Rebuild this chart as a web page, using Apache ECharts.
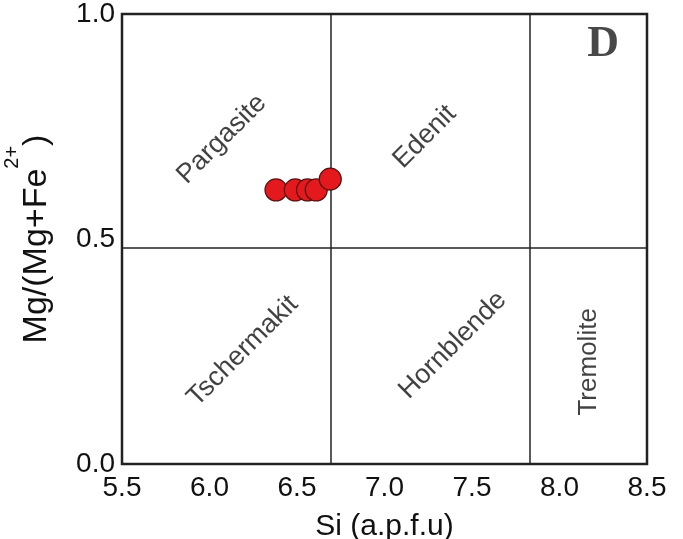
<!DOCTYPE html>
<html>
<head>
<meta charset="utf-8">
<script src="https://cdn.jsdelivr.net/npm/echarts@6/dist/echarts.min.js"></script>
<style>
html,body{margin:0;padding:0;background:#fff;}
#chart{width:683px;height:539px;}
</style>
</head>
<body>
<div id="chart"></div>
<script>
// ---- data ----
const xMin = 5.5, xMax = 8.5, xStep = 0.5;
const yMin = 0, yMax = 1, yStep = 0.5;
const siValues = [6.38, 6.49, 6.56, 6.61, 6.69];
const mgValues = [0.609, 0.609, 0.609, 0.609, 0.633];
const siBoundaries = [6.69, 7.83];
const mgBoundaries = [0.484];
const fieldNames = ['Pargasite', 'Edenit', 'Tschermakit', 'Hornblende', 'Tremolite'];
const fieldSi = [6.07, 7.23, 6.19, 7.39, 8.17];
const fieldMg = [0.722, 0.727, 0.251, 0.264, 0.227];
const panelLetter = 'D';
const panelSi = 8.25, panelMg = 0.931;

// ---- build ----
const font = "'Liberation Sans', Arial, sans-serif";
const ink = '#111';
const fieldAngle = {Tremolite: 90};
const fieldSize = {Tremolite: 26};

const chart = echarts.init(document.getElementById('chart'), null, {renderer: 'canvas'});
chart.setOption({
  animation: false,
  backgroundColor: '#fff',
  grid: {left: 122, right: 36, top: 14, bottom: 75, containLabel: false, outerBoundsMode: 'none',
    show: true, borderColor: '#222', borderWidth: 2.5, backgroundColor: 'transparent'},
  xAxis: {
    type: 'value', min: xMin, max: xMax, interval: xStep,
    axisLine: {show: false}, axisTick: {show: false}, splitLine: {show: false},
    axisLabel: {color: ink, fontSize: 28, fontFamily: font, margin: 10, formatter: v => v.toFixed(1),
      showMinLabel: true, showMaxLabel: true},
    name: 'Si (a.p.f.u)', nameLocation: 'middle', nameGap: 48,
    nameTextStyle: {color: ink, fontSize: 30, fontFamily: font}
  },
  yAxis: {
    type: 'value', min: yMin, max: yMax, interval: yStep,
    axisLine: {show: false}, axisTick: {show: false}, splitLine: {show: false},
    axisLabel: {color: ink, fontSize: 28, fontFamily: font, margin: 7, formatter: v => v.toFixed(1)},
    name: '{m|Mg/(Mg+Fe}{s|2+}{m|)}', nameLocation: 'middle', nameGap: 68, nameRotate: 90,
    nameTextStyle: {color: ink, fontSize: 34, fontFamily: font,
      rich: {
        m: {fontSize: 34, fontFamily: font, color: ink, lineHeight: 52, verticalAlign: 'bottom'},
        s: {fontSize: 20, fontFamily: font, color: ink, lineHeight: 52, verticalAlign: 'top'}
      }}
  },
  series: [
    {
      type: 'scatter', silent: true, symbolSize: 0,
      data: [],
      markLine: {
        silent: true, symbol: ['none', 'none'], label: {show: false},
        lineStyle: {color: '#222', width: 1.5, type: 'solid'},
        data: siBoundaries.map(v => ({xAxis: v})).concat(mgBoundaries.map(v => ({yAxis: v})))
      }
    },
    {
      type: 'scatter', silent: true, symbolSize: 0,
      data: fieldNames.map((n, i) => ({
        name: n, value: [fieldSi[i], fieldMg[i]],
        label: {rotate: fieldAngle[n] || 45, fontSize: fieldSize[n] || 27}
      })),
      label: {show: true, position: 'inside', formatter: p => p.name, color: ink, fontSize: 27, fontFamily: font}
    },
    {
      type: 'scatter', silent: true, symbolSize: 0,
      data: [{name: panelLetter, value: [panelSi, panelMg]}],
      label: {show: true, position: 'inside', formatter: p => p.name, color: '#1a1a1a', fontSize: 44, fontWeight: 'bold', fontFamily: "'Liberation Serif', 'Times New Roman', serif"}
    },
    {
      type: 'scatter', symbol: 'circle', symbolSize: 22,
      itemStyle: {color: '#e3191e', borderColor: '#5a1010', borderWidth: 1.2, opacity: 1},
      data: siValues.map((v, i) => [v, mgValues[i]]),
      z: 5
    }
  ]
});
</script>
</body>
</html>
